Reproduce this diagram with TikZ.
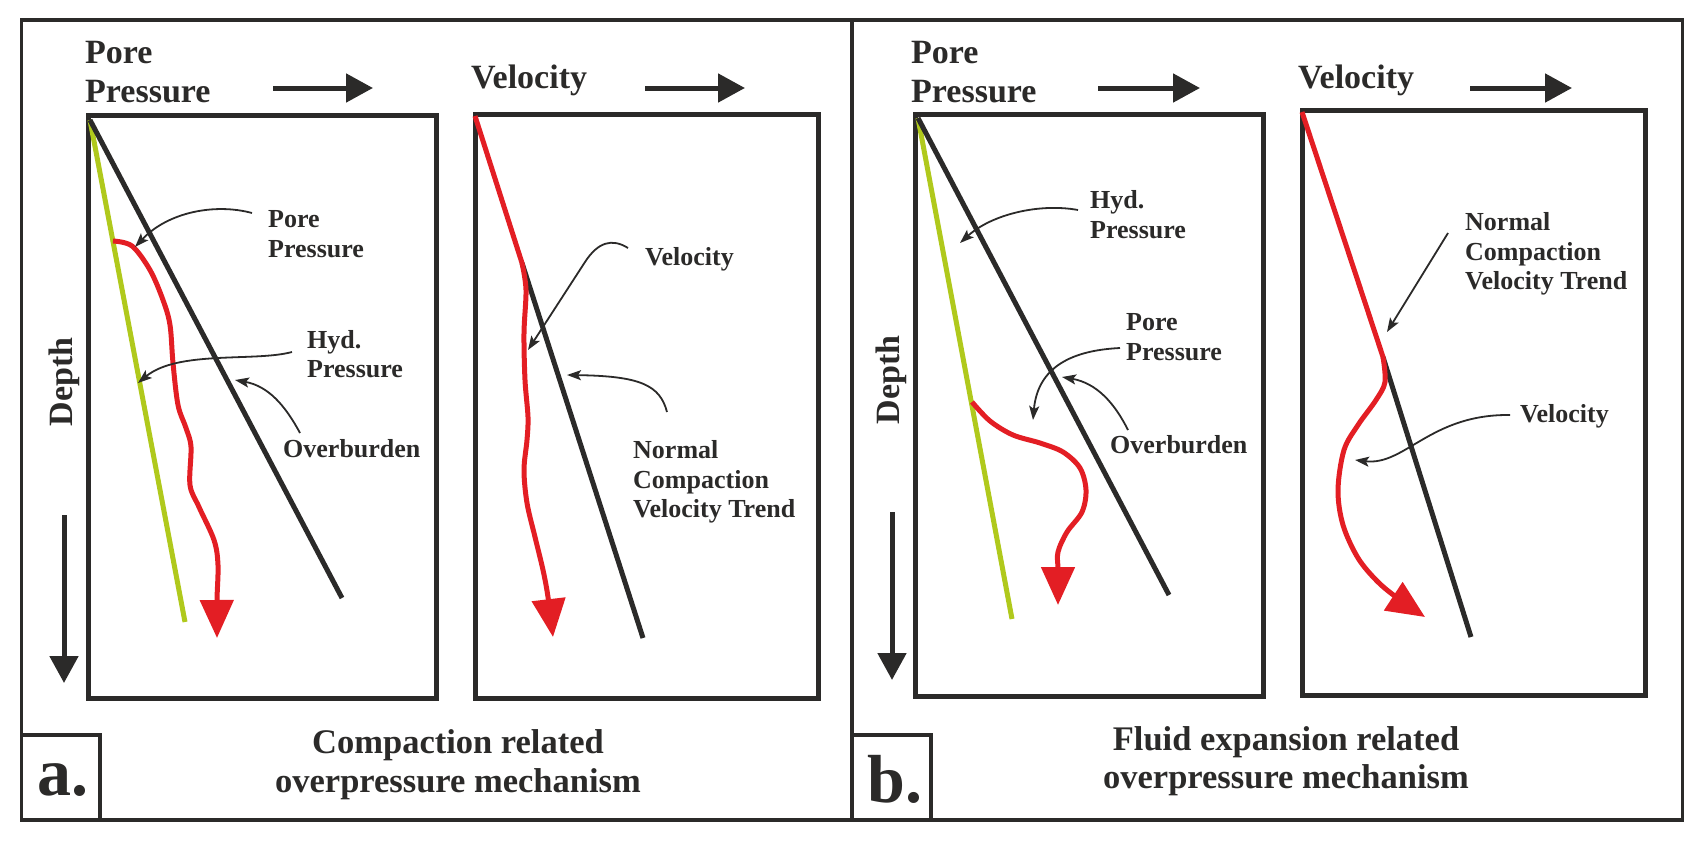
\documentclass[tikz,border=0pt]{standalone}
\usepackage{fontspec}
\setmainfont{Liberation Serif}
\usetikzlibrary{arrows.meta}
\definecolor{dk}{RGB}{43,42,41}
\definecolor{rd}{RGB}{227,30,36}
\definecolor{gr}{RGB}{176,201,28}
\newcommand\myfs[1]{\fontsize{#1}{#1}\selectfont\bfseries}
\begin{document}
\begin{tikzpicture}[x=1pt,y=-1pt,
 outerframe/.style={draw=dk, line width=3.2pt},
 panelbox/.style={draw=dk, line width=5pt},
 heading/.style={anchor=base west, inner sep=0pt, text=dk, font=\myfs{34}},
 labeltext/.style={anchor=base west, inner sep=0pt, text=dk, font=\myfs{26}},
 captiontext/.style={anchor=base, inner sep=0pt, text=dk, font=\myfs{34.5}},
 lettertext/.style={anchor=base west, inner sep=0pt, text=dk, font=\myfs{68}},
 axisarrow/.style={draw=dk, line width=5pt, -{Triangle[length=27pt,width=28pt]}},
 trendline/.style={draw=dk, line width=5pt},
 hydroline/.style={draw=gr, line width=5pt},
 redcurve/.style={draw=rd, line width=5pt, line join=round, -{Triangle[length=38pt,width=33pt]}},
 notearrow/.style={draw=dk, line width=1.8pt, -{Stealth[length=14pt,width=10pt,inset=3pt]}},
]
\useasboundingbox (0,0) rectangle (1700,841);

% outer frame and panels
\draw[outerframe] (21.5,20) rectangle (1682.5,820);
\draw[outerframe] (852,20) -- (852,820);
\draw[outerframe] (21.5,735) rectangle (100,820);
\draw[outerframe] (852,735) rectangle (931,820);
\node[lettertext] (la) at (37,795) {a.};
\node[lettertext] (lb) at (867,802) {b.};

% ================= panel a =================
\draw[panelbox] (88,115) rectangle (436,698);
\draw[panelbox] (475,114) rectangle (818,698);

\node[heading] (aPP1) at (85,63) {Pore};
\node[heading] (aPP2) at (85,102) {Pressure};
\node[heading] (aV) at (471,88) {Velocity};
\coordinate (aAx1s) at (273,88); \coordinate (aAx1e) at (373,88);
\coordinate (aAx2s) at (645,88); \coordinate (aAx2e) at (745,88);
\draw[axisarrow] (aAx1s) -- (aAx1e);
\draw[axisarrow] (aAx2s) -- (aAx2e);
\node[anchor=base, rotate=90, inner sep=0pt, text=dk, font=\myfs{34}] (aDepth) at (72,382) {Depth};
\coordinate (aDs) at (64,515); \coordinate (aDe) at (64,683);
\draw[axisarrow] (aDs) -- (aDe);

% pore pressure box a
\coordinate (aO) at (90,120);
\coordinate (aGe) at (185,622);
\coordinate (aBe) at (342,598);
\draw[hydroline] (aO) -- (aGe);
\draw[trendline] (aO) -- (aBe);
\draw[redcurve] plot[smooth,tension=0.55] coordinates {(113,241) (132,246) (150,270) (163,300) (170,325) (173,363) (178,405) (186,428) (191,447) (190,485) (199,507) (214,540) (218,565) (217,600) (217,638)};

\node[labeltext] (aL1a) at (268,227) {Pore};
\node[labeltext] (aL1b) at (268,257) {Pressure};
\coordinate (aN1s) at (252,213); \coordinate (aN1t) at (135,247);
\draw[notearrow] (aN1s) .. controls (215,203) and (168,212) .. (aN1t);

\node[labeltext] (aL2a) at (307,348) {Hyd.};
\node[labeltext] (aL2b) at (307,377) {Pressure};
\coordinate (aN2s) at (292,352); \coordinate (aN2t) at (138,383);
\draw[notearrow] (aN2s) .. controls (255,362) and (178,350) .. (aN2t);

\node[labeltext] (aL3) at (283,457) {Overburden};
\coordinate (aN3s) at (300,433); \coordinate (aN3t) at (235,380);
\draw[notearrow] (aN3s) .. controls (285,405) and (268,386) .. (aN3t);

% velocity box a
\coordinate (aVO) at (475,116);
\coordinate (aVk) at (522,263);
\coordinate (aVe) at (643,638);
\draw[trendline] (aVk) -- (aVe);
\draw[redcurve] (aVO) -- plot[smooth,tension=0.55] coordinates {(522,263) (526,290) (524,333) (525,380) (528,417) (527,440) (524,470) (527,503) (535,537) (543,570) (548,597) (553,637)};

\node[labeltext] (aL4) at (645,265) {Velocity};
\coordinate (aN4s) at (628,248); \coordinate (aN4t) at (528,350);
\draw[notearrow] (aN4s) .. controls (612,238) and (598,242) .. (585,262) -- (aN4t);

\node[labeltext] (aL5a) at (633,458) {Normal};
\node[labeltext] (aL5b) at (633,488) {Compaction};
\node[labeltext] (aL5c) at (633,517) {Velocity Trend};
\coordinate (aN5s) at (667,412); \coordinate (aN5t) at (567,375);
\draw[notearrow] (aN5s) .. controls (660,385) and (640,376) .. (aN5t);

\node[captiontext] (aC1) at (458,753) {Compaction related};
\node[captiontext] (aC2) at (458,792) {overpressure mechanism};

% ================= panel b =================
\draw[panelbox] (915,114) rectangle (1263,696);
\draw[panelbox] (1302,110) rectangle (1645,695);

\node[heading] (bPP1) at (911,63) {Pore};
\node[heading] (bPP2) at (911,102) {Pressure};
\node[heading] (bV) at (1298,88) {Velocity};
\coordinate (bAx1s) at (1098,88); \coordinate (bAx1e) at (1200,88);
\coordinate (bAx2s) at (1470,88); \coordinate (bAx2e) at (1572,88);
\draw[axisarrow] (bAx1s) -- (bAx1e);
\draw[axisarrow] (bAx2s) -- (bAx2e);
\node[anchor=base, rotate=90, inner sep=0pt, text=dk, font=\myfs{34}] (bDepth) at (899,380) {Depth};
\coordinate (bDs) at (892,512); \coordinate (bDe) at (892,680);
\draw[axisarrow] (bDs) -- (bDe);

% pore pressure box b
\coordinate (bO) at (918,118);
\coordinate (bGe) at (1012,619);
\coordinate (bBe) at (1169,595);
\draw[hydroline] (bO) -- (bGe);
\draw[trendline] (bO) -- (bBe);
\draw[redcurve] plot[smooth,tension=0.55] coordinates {(972,402) (990,421) (1013,435) (1040,443) (1063,452) (1080,468) (1086,490) (1082,512) (1067,532) (1058,552) (1058,570) (1058,605)};

\node[labeltext] (bL1a) at (1090,208) {Hyd.};
\node[labeltext] (bL1b) at (1090,238) {Pressure};
\coordinate (bN1s) at (1078,210); \coordinate (bN1t) at (960,243);
\draw[notearrow] (bN1s) .. controls (1040,203) and (992,214) .. (bN1t);

\node[labeltext] (bL2a) at (1126,330) {Pore};
\node[labeltext] (bL2b) at (1126,360) {Pressure};
\coordinate (bN2s) at (1120,348); \coordinate (bN2t) at (1033,420);
\draw[notearrow] (bN2s) .. controls (1080,350) and (1038,362) .. (bN2t);

\node[labeltext] (bL3) at (1110,453) {Overburden};
\coordinate (bN3s) at (1128,430); \coordinate (bN3t) at (1062,377);
\draw[notearrow] (bN3s) .. controls (1114,402) and (1096,383) .. (bN3t);

% velocity box b
\coordinate (bVO) at (1302,112);
\coordinate (bVk) at (1383,357);
\coordinate (bVe) at (1471,637);
\draw[trendline] (bVk) -- (bVe);
\draw[redcurve] (bVO) -- plot[smooth,tension=0.55] coordinates {(1383,357) (1385,382) (1376,400) (1358,425) (1344,450) (1338,490) (1343,525) (1358,558) (1378,582) (1400,600) (1425,617)};

\node[labeltext] (bL4a) at (1465,230) {Normal};
\node[labeltext] (bL4b) at (1465,260) {Compaction};
\node[labeltext] (bL4c) at (1465,289) {Velocity Trend};
\coordinate (bN4s) at (1448,233); \coordinate (bN4t) at (1387,332);
\draw[notearrow] (bN4s) -- (bN4t);

\node[labeltext] (bL5) at (1520,422) {Velocity};
\coordinate (bN5s) at (1510,415); \coordinate (bN5t) at (1355,460);
\draw[notearrow] (bN5s) .. controls (1430,414) and (1405,466) .. (bN5t);

\node[captiontext] (bC1) at (1286,750) {Fluid expansion related};
\node[captiontext] (bC2) at (1286,788) {overpressure mechanism};
\end{tikzpicture}
\end{document}
